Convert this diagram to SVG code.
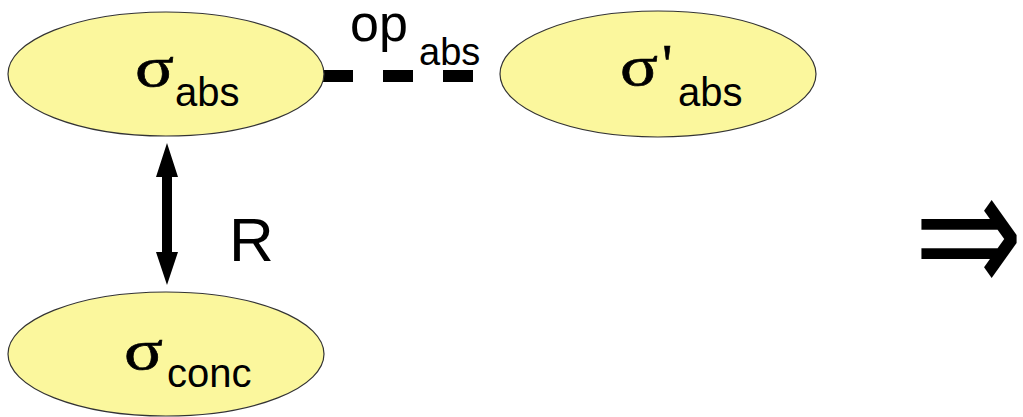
<svg xmlns="http://www.w3.org/2000/svg" width="1023" height="417" viewBox="0 0 1023 417">
<style>
.node{fill:#fbf79d;stroke:#333;stroke-width:1.2}
.sig{font-family:"Liberation Serif","DejaVu Serif",serif;font-size:58px;fill:#000;stroke:#000;stroke-width:0.6}
.sub{font-family:"Liberation Sans",Arial,sans-serif;font-size:40px;fill:#000}
.lbl{font-family:"Liberation Sans",Arial,sans-serif;fill:#000}
</style>
<rect width="1023" height="417" fill="#fff"/>
<g id="connectors">
<line x1="323" y1="76" x2="475" y2="76" stroke="#000" stroke-width="12" stroke-dasharray="30,30"/>
<path d="M167,143 L178,177 L172,177 L172,252 L178,252 L167,285 L156,252 L162,252 L162,177 L156,177 Z" fill="#000"/>
<text class="lbl" x="350" y="41" font-size="52">op</text>
<text class="lbl" x="419" y="65" font-size="38">abs</text>
<text class="lbl" x="229" y="261" font-size="62">R</text>
</g>
<g id="node-abs">
<ellipse class="node" cx="166" cy="74" rx="158" ry="62"/>
<text class="sig" x="135" y="86" textLength="39" lengthAdjust="spacingAndGlyphs">σ</text>
<text class="sub" x="175" y="106">abs</text>
</g>
<g id="node-abs-prime">
<ellipse class="node" cx="658" cy="74" rx="158" ry="63"/>
<text class="sig" x="620" y="85" textLength="38" lengthAdjust="spacingAndGlyphs">σ</text>
<text class="sig" x="662" y="84" font-size="50">'</text>
<text class="sub" x="678" y="106">abs</text>
</g>
<g id="node-conc">
<ellipse class="node" cx="166" cy="354" rx="158" ry="62"/>
<text class="sig" x="124" y="369" textLength="39" lengthAdjust="spacingAndGlyphs">σ</text>
<text class="sub" x="167" y="387">conc</text>
</g>
<g id="implies">
<text transform="translate(914,240) scale(1,1.4)" x="0" y="40" font-family="DejaVu Sans,sans-serif" font-size="130" fill="#000">⇒</text>
</g>
</svg>
